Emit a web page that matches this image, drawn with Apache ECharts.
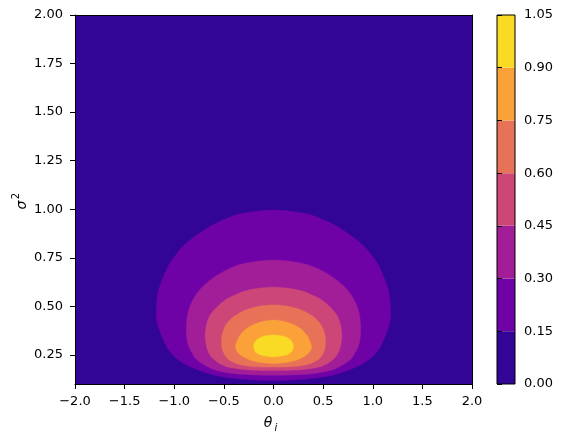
<!DOCTYPE html>
<html><head><meta charset="utf-8">
<script src="https://cdn.jsdelivr.net/npm/echarts@6/dist/echarts.min.js"></script>
<style>html,body{margin:0;padding:0;background:#fff}#c{width:565px;height:441px}</style>
</head><body><div id="c"></div>
<script>
// Axis ranges and ticks
const thetaRange = [-2, 2];
const sigma2Range = [0.1, 2.0];
const thetaInterval = 0.5;
const sigma2Ticks = [0.25, 0.5, 0.75, 1.0, 1.25, 1.5, 1.75, 2.0];
// Contour levels and band colours (plasma)
const levels = [0, 0.15, 0.30, 0.45, 0.60, 0.75, 0.90, 1.05];
const bandColors = ['#320597', '#6f02a7', '#a21e99', '#cc4778', '#e87258', '#fba139', '#f9da24'];

// Contour boundaries: [sigma^2, half-width in theta] (symmetric about theta = 0)
const contour015 = [[0.996,0],[0.980,0.295],[0.957,0.45],[0.912,0.637],[0.829,0.87],[0.755,1.0],[0.695,1.073],[0.583,1.157],[0.481,1.18],[0.429,1.176],[0.378,1.15],[0.326,1.108],[0.275,1.056],[0.223,0.955],[0.181,0.804],[0.146,0.602],[0.129,0.40],[0.121,0.2],[0.117,0]];
const contour030 = [[0.738,0],[0.723,0.27],[0.694,0.445],[0.643,0.616],[0.581,0.75],[0.511,0.833],[0.455,0.866],[0.400,0.878],[0.350,0.876],[0.300,0.858],[0.260,0.82],[0.223,0.768],[0.178,0.62],[0.156,0.44],[0.148,0.25],[0.145,0]];
const contour045 = [[0.599,0],[0.584,0.25],[0.551,0.42],[0.524,0.51],[0.471,0.616],[0.425,0.664],[0.361,0.688],[0.301,0.678],[0.258,0.65],[0.232,0.612],[0.206,0.545],[0.189,0.47],[0.178,0.36],[0.171,0.2],[0.169,0]];
const contour060 = [[0.507,0],[0.500,0.146],[0.481,0.28],[0.447,0.40],[0.405,0.478],[0.356,0.517],[0.320,0.524],[0.288,0.52],[0.258,0.5],[0.232,0.465],[0.215,0.415],[0.199,0.33],[0.190,0.2],[0.187,0]];
const contour075 = [[0.429,0],[0.423,0.1],[0.407,0.196],[0.382,0.28],[0.348,0.340],[0.310,0.375],[0.285,0.382],[0.258,0.352],[0.236,0.29],[0.218,0.2],[0.209,0.1],[0.206,0]];
const contour090 = [[0.352,0],[0.347,0.09],[0.335,0.15],[0.318,0.185],[0.296,0.2],[0.275,0.192],[0.258,0.165],[0.247,0.11],[0.240,0]];

const contours = [null, contour015, contour030, contour045, contour060, contour075, contour090];

const FONT = 'DejaVu Sans';
const fmtTheta = v => (v < 0 ? '\u2212' : '') + Math.abs(v).toFixed(1);

// closed Catmull-Rom curve through pixel points (rendering only)
function smoothClosed(P, steps) {
  const n = P.length, out = [];
  for (let i = 0; i < n; i++) {
    const p0 = P[(i - 1 + n) % n], p1 = P[i], p2 = P[(i + 1) % n], p3 = P[(i + 2) % n];
    for (let s = 0; s < steps; s++) {
      const t = s / steps, t2 = t * t, t3 = t2 * t;
      const f = (a, b, c, d) => 0.5 * ((2 * b) + (-a + c) * t + (2 * a - 5 * b + 4 * c - d) * t2 + (-a + 3 * b - 3 * c + d) * t3);
      out.push([f(p0[0], p1[0], p2[0], p3[0]), f(p0[1], p1[1], p2[1], p3[1])]);
    }
  }
  return out;
}

function renderContour(params, api) {
  const i = api.value(0);
  const color = bandColors[i];
  if (i === 0) {
    const p0 = api.coord([thetaRange[0], sigma2Range[1]]);
    const p1 = api.coord([thetaRange[1], sigma2Range[0]]);
    return {type: 'rect', shape: {x: p0[0], y: p0[1], width: p1[0] - p0[0], height: p1[1] - p0[1]}, style: {fill: color}};
  }
  const pts = contours[i];
  const right = pts.map(p => api.coord([p[1], p[0]]));
  const left = pts.slice().reverse().filter(p => p[1] > 0).map(p => api.coord([-p[1], p[0]]));
  return {type: 'polygon', shape: {points: smoothClosed(right.concat(left), 10)}, style: {fill: color, stroke: color, lineWidth: 0.4}};
}

function renderBar(params, api) {
  const i = api.value(0);
  if (i === bandColors.length) {
    const a = api.coord([0, levels[levels.length - 1]]);
    const b = api.coord([1, levels[0]]);
    return {type: 'rect', z2: 10, shape: {x: a[0], y: a[1], width: b[0] - a[0], height: b[1] - a[1]}, style: {fill: 'none', stroke: '#000', lineWidth: 1}};
  }
  const a = api.coord([0, levels[i + 1]]);
  const b = api.coord([1, levels[i]]);
  return {type: 'rect', shape: {x: a[0], y: a[1], width: b[0] - a[0], height: b[1] - a[1]}, style: {fill: bandColors[i]}};
}

const axisLabelStyle = {color: '#000', fontFamily: FONT, fontSize: 13};
const tickStyle = {show: true, inside: false, length: 5, lineStyle: {color: '#000', width: 1}};
const lineStyle = {show: true, onZero: false, lineStyle: {color: '#000', width: 1}};

const chart = echarts.init(document.getElementById('c'), null, {renderer: 'canvas'});
chart.setOption({
  animation: false,
  backgroundColor: '#fff',
  grid: [
    {left: 75, right: 93, top: 15, bottom: 57, containLabel: false, outerBoundsMode: 'none'},
    {left: 497, width: 18, top: 15, bottom: 57, containLabel: false, outerBoundsMode: 'none'}
  ],
  xAxis: [
    {type: 'value', gridIndex: 0, min: thetaRange[0], max: thetaRange[1], interval: thetaInterval, z: 10,
     axisLine: lineStyle, axisTick: tickStyle, splitLine: {show: false},
     axisLabel: Object.assign({margin: 11, formatter: fmtTheta, showMinLabel: true, showMaxLabel: true}, axisLabelStyle)},
    {type: 'value', gridIndex: 0, position: 'top', min: thetaRange[0], max: thetaRange[1], z: 10,
     axisLine: lineStyle, axisTick: {show: false}, axisLabel: {show: false}, splitLine: {show: false}},
    {type: 'value', gridIndex: 1, min: 0, max: 1, show: false}
  ],
  yAxis: [
    {type: 'value', gridIndex: 0, min: sigma2Range[0], max: sigma2Range[1], z: 10,
     axisLine: lineStyle, axisTick: Object.assign({customValues: sigma2Ticks}, tickStyle), splitLine: {show: false},
     axisLabel: Object.assign({margin: 12, customValues: sigma2Ticks, formatter: v => v.toFixed(2)}, axisLabelStyle)},
    {type: 'value', gridIndex: 0, position: 'right', min: sigma2Range[0], max: sigma2Range[1], z: 10,
     axisLine: lineStyle, axisTick: {show: false}, axisLabel: {show: false}, splitLine: {show: false}},
    {type: 'value', gridIndex: 1, position: 'right', min: levels[0], max: levels[levels.length - 1], interval: 0.15, z: 10,
     axisLine: {show: false}, axisTick: tickStyle, splitLine: {show: false},
     axisLabel: Object.assign({margin: 9, formatter: v => v.toFixed(2), showMinLabel: true, showMaxLabel: true}, axisLabelStyle)}
  ],
  series: [
    {type: 'custom', xAxisIndex: 0, yAxisIndex: 0, clip: true, renderItem: renderContour,
     data: bandColors.map((c, i) => [i]), silent: true},
    {type: 'custom', xAxisIndex: 2, yAxisIndex: 2, renderItem: renderBar,
     data: bandColors.map((c, i) => [i]).concat([[bandColors.length]]), silent: true}
  ],
  graphic: [
    {type: 'text', x: 268, y: 423, style: {text: '\u03b8', fontFamily: FONT, fontSize: 14, fontStyle: 'italic', fill: '#000', align: 'center', verticalAlign: 'middle'}},
    {type: 'text', x: 276, y: 428, style: {text: 'i', fontFamily: FONT, fontSize: 10, fontStyle: 'italic', fill: '#000', align: 'center', verticalAlign: 'middle'}},
    {type: 'text', x: 22, y: 205, rotation: Math.PI / 2, style: {text: '\u03c3', fontFamily: FONT, fontSize: 14, fontStyle: 'italic', fill: '#000', align: 'center', verticalAlign: 'middle'}},
    {type: 'text', x: 16, y: 196, rotation: Math.PI / 2, style: {text: '2', fontFamily: FONT, fontSize: 10, fill: '#000', align: 'center', verticalAlign: 'middle'}}
  ]
});
</script></body></html>
